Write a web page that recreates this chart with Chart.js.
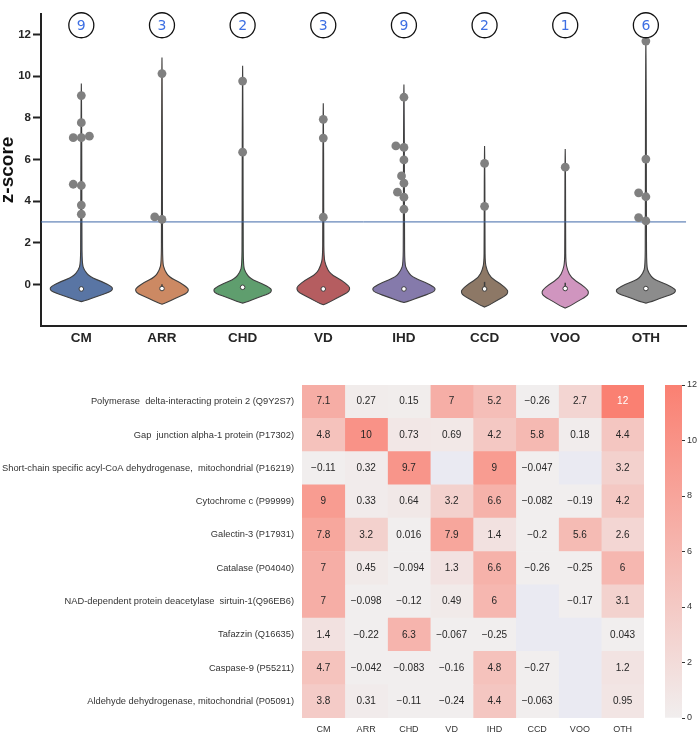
<!DOCTYPE html>
<html>
<head>
<meta charset="utf-8">
<script src="https://cdn.jsdelivr.net/npm/chart.js@4.4.1/dist/chart.umd.min.js"></script>
<style>
  body { margin: 0; background: #fff; }
  #wrap { position: relative; width: 700px; height: 742px; }
  canvas { position: absolute; }
</style>
</head>
<body>
<div id="wrap">
  <canvas id="violin" width="700" height="350" style="left:0;top:0"></canvas>
  <canvas id="heat" width="700" height="392" style="left:0;top:350px"></canvas>
  <canvas id="cbar" width="100" height="392" style="left:600px;top:350px"></canvas>
</div>
<script>
// --- violin panel data ---
const categories = ['CM', 'ARR', 'CHD', 'VD', 'IHD', 'CCD', 'VOO', 'OTH'];
const violinColors = ['#5975a4', '#cc8963', '#5f9e6e', '#b55d60', '#857aab', '#8d7866', '#d095bf', '#8c8c8c'];
const violinBottom = [-0.83, -0.95, -0.9, -0.98, -0.87, -1.09, -1.14, -0.9];
const violinNeck = [1.0, 1.05, 0.9, 1.3, 1.0, 1.07, 1.07, 0.85];
const violinTop = [9.65, 10.9, 10.5, 8.7, 9.6, 6.65, 6.5, 11.7];
const violinHalfWidth = [0.39, 0.33, 0.36, 0.33, 0.39, 0.29, 0.29, 0.37];
const medians = [-0.22, -0.2, -0.14, -0.22, -0.22, -0.22, -0.2, -0.2];
const innerTop = [-0.15, 0.0, -0.1, -0.15, -0.15, 0.12, 0.08, -0.12];

// body outline shared by the violins (t: bottom->neck, w: share of half width)
const bodyT = [0, 0.044, 0.13, 0.26, 0.33, 0.39, 0.52, 0.65, 0.83, 1.0];
const bodyW = [0, 0.2, 0.47, 0.93, 1.0, 0.97, 0.68, 0.26, 0.09, 0.025];
const tailT = [0.15, 0.5, 0.85, 1];
const tailW = [0.018, 0.015, 0.01, 0];

const hitValues = [
  [9.07, 7.77, 7.05, 7.05, 7.12, 4.81, 4.75, 3.81, 3.37],
  [10.13, 3.24, 3.12],
  [9.77, 6.35],
  [7.93, 7.03, 3.23],
  [8.99, 6.65, 6.58, 5.98, 5.21, 4.86, 4.43, 4.19, 3.61],
  [5.81, 3.75],
  [5.63],
  [11.69, 6.02, 4.4, 4.21, 3.21, 3.05]
];
const hitJitter = [
  [0, 0, -0.1, 0, 0.1, -0.1, 0, 0, 0],
  [0, -0.09, 0],
  [0, 0],
  [0, 0, 0],
  [0, -0.1, 0, 0, -0.03, 0, -0.08, 0, 0],
  [0, 0],
  [0],
  [0, 0, -0.09, 0, -0.09, 0]
];
const hitCounts = [9, 3, 2, 3, 9, 2, 1, 6];
const countLevel = 12.45;
const threshold = 3;
const yTicks = [0, 2, 4, 6, 8, 10, 12];

// --- heatmap data ---
const rowNames = [
  'Polymerase  delta-interacting protein 2 (Q9Y2S7)',
  'Gap  junction alpha-1 protein (P17302)',
  'Short-chain specific acyl-CoA dehydrogenase,  mitochondrial (P16219)',
  'Cytochrome c (P99999)',
  'Galectin-3 (P17931)',
  'Catalase (P04040)',
  'NAD-dependent protein deacetylase  sirtuin-1(Q96EB6)',
  'Tafazzin (Q16635)',
  'Caspase-9 (P55211)',
  'Aldehyde dehydrogenase, mitochondrial (P05091)'
];
const heatValues = [
  [7.1, 0.27, 0.15, 7, 5.2, -0.26, 2.7, 12],
  [4.8, 10, 0.73, 0.69, 4.2, 5.8, 0.18, 4.4],
  [-0.11, 0.32, 9.7, null, 9, -0.047, null, 3.2],
  [9, 0.33, 0.64, 3.2, 6.6, -0.082, -0.19, 4.2],
  [7.8, 3.2, 0.016, 7.9, 1.4, -0.2, 5.6, 2.6],
  [7, 0.45, -0.094, 1.3, 6.6, -0.26, -0.25, 6],
  [7, -0.098, -0.12, 0.49, 6, null, -0.17, 3.1],
  [1.4, -0.22, 6.3, -0.067, -0.25, null, null, 0.043],
  [4.7, -0.042, -0.083, -0.16, 4.8, -0.27, null, 1.2],
  [3.8, 0.31, -0.11, -0.24, 4.4, -0.063, null, 0.95]
];
const cbarTicks = [0, 2, 4, 6, 8, 10, 12];
const cmapLow = [241, 238, 238];
const cmapHigh = [250, 128, 114];
const cmapMax = 12;
const missingColor = '#eaeaf2';

Chart.defaults.font.family = '"Liberation Sans", Arial, sans-serif';
Chart.defaults.plugins.legend.display = false;
Chart.defaults.plugins.tooltip.enabled = false;
Chart.defaults.animation = false;

function cellColor(v) {
  if (v === null) return missingColor;
  const t = Math.max(0, Math.min(1, v / cmapMax));
  const c = cmapLow.map((lo, k) => Math.round(lo + (cmapHigh[k] - lo) * t));
  return `rgb(${c[0]}, ${c[1]}, ${c[2]})`;
}

function fmt(v) {
  return String(v).replace('-', '\u2212');
}

// violin bodies drawn from the scales
const violinPlugin = {
  id: 'violins',
  beforeDatasetsDraw(chart) {
    const { ctx, scales: { x, y } } = chart;
    ctx.save();
    categories.forEach((name, i) => {
      const lo = violinBottom[i], neck = violinNeck[i], top = violinTop[i], hw = violinHalfWidth[i];
      const side = [];
      bodyT.forEach((t, k) => side.push([lo + t * (neck - lo), bodyW[k] * hw]));
      tailT.forEach((t, k) => side.push([neck + t * (top - neck), tailW[k] * hw]));
      const pts = side.map(([v, w]) => [x.getPixelForValue(i + w), y.getPixelForValue(v)])
        .concat(side.slice().reverse().map(([v, w]) => [x.getPixelForValue(i - w), y.getPixelForValue(v)]));
      const n = pts.length;
      const mid = (a, b) => [(a[0] + b[0]) / 2, (a[1] + b[1]) / 2];
      ctx.beginPath();
      const m0 = mid(pts[n - 1], pts[0]);
      ctx.moveTo(m0[0], m0[1]);
      for (let k = 0; k < n; k++) {
        const p = pts[k], m = mid(p, pts[(k + 1) % n]);
        ctx.quadraticCurveTo(p[0], p[1], m[0], m[1]);
      }
      ctx.closePath();
      ctx.fillStyle = violinColors[i];
      ctx.fill();
      ctx.strokeStyle = '#3f3f3f';
      ctx.lineWidth = 1.1;
      ctx.stroke();

      // inner box stick
      ctx.beginPath();
      ctx.moveTo(x.getPixelForValue(i), y.getPixelForValue(medians[i]));
      ctx.lineTo(x.getPixelForValue(i), y.getPixelForValue(innerTop[i]));
      ctx.lineWidth = 1.5;
      ctx.stroke();
    });
    ctx.restore();
  }
};

const countText = {
  id: 'countText',
  afterDatasetsDraw(chart) {
    const { ctx } = chart;
    const meta = chart.getDatasetMeta(2);
    ctx.save();
    ctx.font = '14px "DejaVu Sans"';
    ctx.fillStyle = '#3d6fe3';
    ctx.textAlign = 'center';
    ctx.textBaseline = 'middle';
    meta.data.forEach((pt, i) => ctx.fillText(String(hitCounts[i]), pt.x, pt.y + 1));
    ctx.restore();
  }
};

const hitPoints = [];
hitValues.forEach((vals, i) => vals.forEach((v, k) => hitPoints.push({ x: i + hitJitter[i][k], y: v })));

new Chart(document.getElementById('violin'), {
  type: 'scatter',
  data: {
    datasets: [
      {
        data: categories.map((c, i) => ({ x: i, y: medians[i] })),
        pointRadius: 2.3, pointBackgroundColor: '#ffffff', pointBorderColor: '#3f3f3f', pointBorderWidth: 1,
        order: 0
      },
      {
        data: hitPoints,
        pointRadius: 4.4, pointBackgroundColor: '#808080', pointBorderWidth: 0,
        order: 2
      },
      {
        data: categories.map((c, i) => ({ x: i, y: countLevel })),
        pointRadius: 12.5, pointBackgroundColor: '#ffffff', pointBorderColor: '#111', pointBorderWidth: 1.3,
        clip: false, order: 1
      },
      {
        type: 'line',
        data: [{ x: -0.5, y: threshold }, { x: 7.5, y: threshold }],
        borderColor: '#3f68a8', borderWidth: 1, pointRadius: 0,
        order: 3
      }
    ]
  },
  options: {
    responsive: false,
    devicePixelRatio: 1,
    layout: { padding: { top: 10, right: 10, left: 0, bottom: 0 } },
    scales: {
      x: {
        type: 'linear', min: -0.5, max: 7.5,
        afterBuildTicks: s => { s.ticks = categories.map((c, i) => ({ value: i })); },
        afterFit: s => { s.height = 24; },
        grid: { display: false, drawTicks: false },
        border: { color: '#222', width: 2 },
        ticks: { padding: 4, color: '#262626', font: { size: 13.5, weight: 'bold' }, callback: v => categories[v] }
      },
      y: {
        min: -2, max: 13,
        afterBuildTicks: s => { s.ticks = yTicks.map(v => ({ value: v })); },
        afterFit: s => { s.width = 41; },
        grid: { drawOnChartArea: false, drawTicks: true, tickLength: 8, tickWidth: 2, tickColor: '#222', color: '#222' },
        border: { color: '#222', width: 2 },
        ticks: { padding: 2, color: '#262626', font: { size: 11.5, weight: 'bold' } },
        title: { display: true, text: 'z-score', color: '#111', font: { size: 19, weight: 'bold', lineHeight: 0.8 }, padding: 0 }
      }
    }
  },
  plugins: [violinPlugin, countText]
});

// --- heatmap ---
const cellText = {
  id: 'cellText',
  afterDatasetsDraw(chart) {
    const { ctx } = chart;
    ctx.save();
    ctx.font = '10px "Liberation Sans"';
    ctx.textAlign = 'center';
    ctx.textBaseline = 'middle';
    chart.data.datasets.forEach((ds, c) => {
      chart.getDatasetMeta(c).data.forEach((bar, r) => {
        const v = heatValues[r][c];
        if (v === null) return;
        ctx.fillStyle = v > 11 ? '#ffffff' : '#262626';
        ctx.fillText(fmt(v), (bar.x + bar.base) / 2, bar.y);
      });
    });
    ctx.restore();
  }
};

new Chart(document.getElementById('heat'), {
  type: 'bar',
  data: {
    labels: rowNames,
    datasets: categories.map((col, c) => ({
      label: col,
      data: rowNames.map(() => [c, c + 1]),
      backgroundColor: rowNames.map((r, i) => cellColor(heatValues[i][c])),
      borderWidth: 0,
      grouped: false,
      barPercentage: 1,
      categoryPercentage: 1
    }))
  },
  options: {
    indexAxis: 'y',
    responsive: false,
    devicePixelRatio: 1,
    layout: { padding: { top: 35, right: 56, left: 0, bottom: 0 } },
    scales: {
      x: {
        type: 'linear', min: 0, max: 8,
        afterBuildTicks: s => { s.ticks = categories.map((c, i) => ({ value: i + 0.5 })); },
        afterFit: s => { s.height = 24; },
        grid: { display: false, drawTicks: false },
        border: { display: false },
        ticks: { padding: 6, color: '#333', font: { size: 9 }, callback: v => categories[Math.floor(v)] }
      },
      y: {
        afterFit: s => { s.width = 302; },
        grid: { display: false, drawTicks: false },
        border: { display: false },
        ticks: { padding: 8, color: '#333', font: { size: 9.3 } }
      }
    }
  },
  plugins: [cellText]
});

// --- colour bar ---
new Chart(document.getElementById('cbar'), {
  type: 'bar',
  data: {
    labels: [''],
    datasets: [{
      data: [[0, cmapMax]],
      borderWidth: 0,
      barPercentage: 1,
      categoryPercentage: 1,
      backgroundColor: c => {
        const a = c.chart.chartArea;
        if (!a) return cellColor(6);
        const g = c.chart.ctx.createLinearGradient(0, a.bottom, 0, a.top);
        g.addColorStop(0, cellColor(0));
        g.addColorStop(1, cellColor(cmapMax));
        return g;
      }
    }]
  },
  options: {
    responsive: false,
    devicePixelRatio: 1,
    layout: { padding: { top: 35, bottom: 24, left: 65, right: 0 } },
    scales: {
      x: { display: false },
      y: {
        position: 'right', min: 0, max: cmapMax,
        afterBuildTicks: s => { s.ticks = cbarTicks.map(v => ({ value: v })); },
        afterFit: s => { s.width = 18; },
        grid: { drawOnChartArea: false, drawTicks: true, tickLength: 3, tickColor: '#333' },
        border: { display: false },
        ticks: { padding: 2, color: '#333', font: { size: 9 } }
      }
    }
  }
});
</script>
</body>
</html>
